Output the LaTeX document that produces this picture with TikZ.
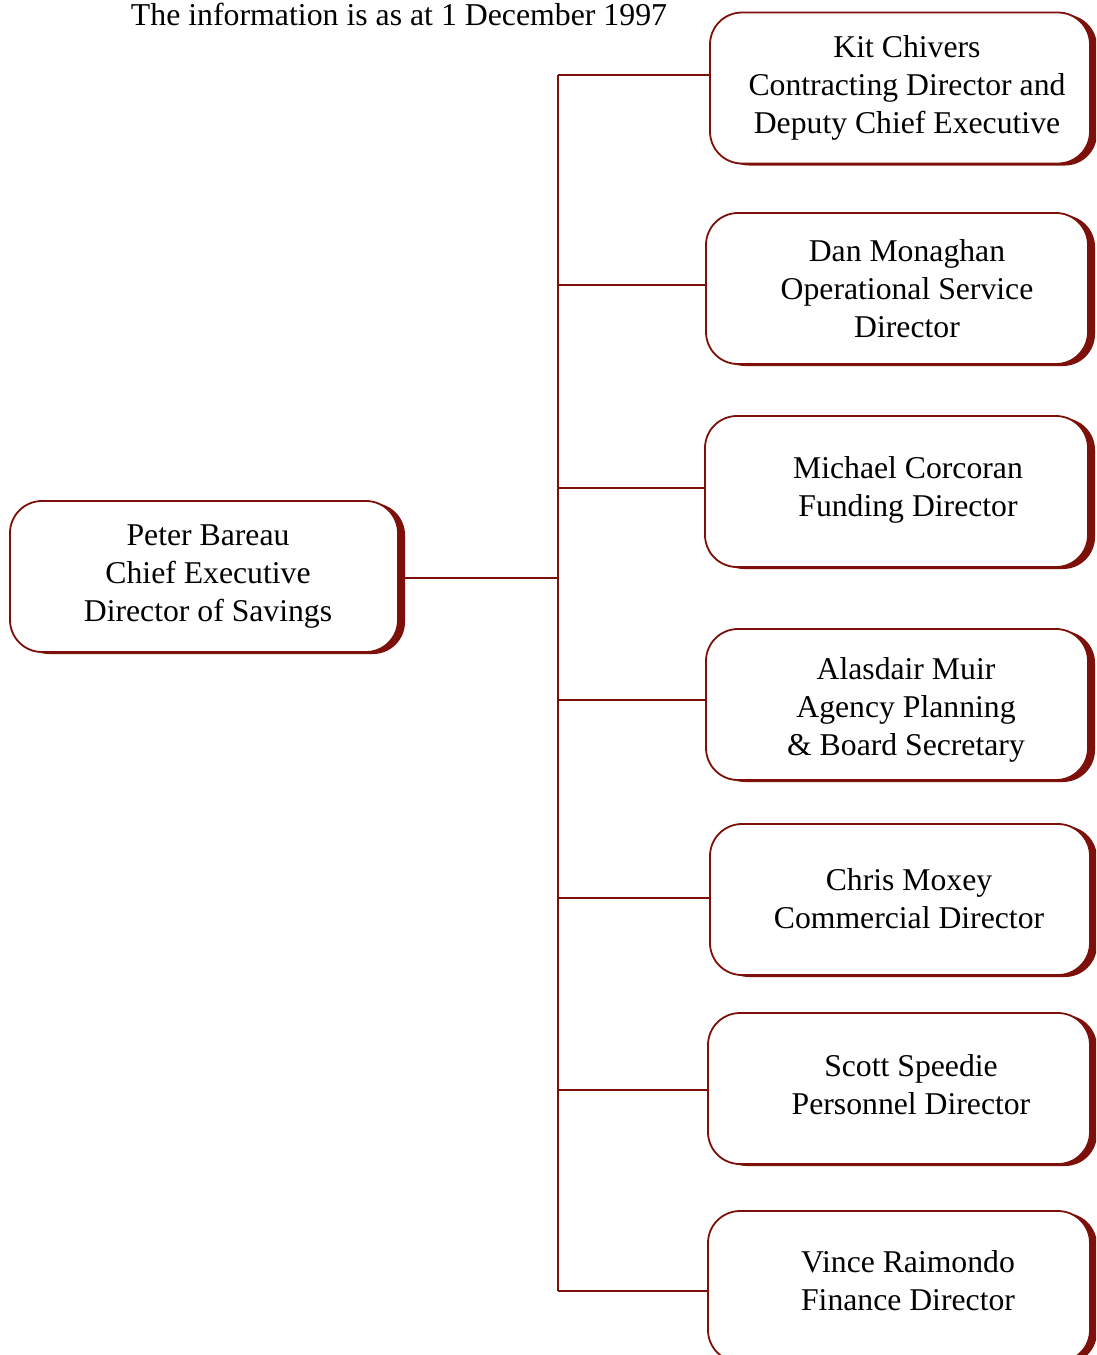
\documentclass[tikz,border=0pt]{standalone}
\usepackage{fontspec}
\setmainfont{Liberation Serif}
\usetikzlibrary{shadows}
\definecolor{dr}{RGB}{125,16,10}
\begin{document}
\begin{tikzpicture}[x=1pt,y=-1pt,
  box/.style={draw=dr, line width=1.8pt, fill=white, rounded corners=32pt,
    minimum height=151pt, inner sep=0pt,
    drop shadow={shadow xshift=7pt, shadow yshift=-2pt, fill=dr, opacity=1}},
  txt/.style={align=center, inner sep=0pt, font=\fontsize{31.7}{38}\selectfont},
  conn/.style={draw=dr, line width=1.8pt}]
\useasboundingbox (0,0) rectangle (1096,1355);
\begin{scope}
\clip (0,0) rectangle (1096,1355);
\node[anchor=base, font=\fontsize{31.8}{38}\selectfont] (title) at (399,25) {The information is as at 1 December 1997};

\node[box, minimum width=388pt] (root) at (204,576.5) {};
\node[txt] (rootT) at (208,576.5) {Peter Bareau\\Chief Executive\\Director of Savings};

\node[box, minimum width=380pt] (b1) at (900,88) {};
\node[txt] (b1T) at (907,88) {Kit Chivers\\Contracting Director and\\Deputy Chief Executive};
\node[box, minimum width=382pt] (b2) at (897,288.5) {};
\node[txt] (b2T) at (907,289) {Dan Monaghan\\Operational Service\\Director};
\node[box, minimum width=383pt] (b3) at (896.5,491.5) {};
\node[txt] (b3T) at (908,490) {Michael Corcoran\\Funding Director};
\node[box, minimum width=382pt] (b4) at (897,704.5) {};
\node[txt] (b4T) at (906,710) {Alasdair Muir\\Agency Planning\\\& Board Secretary};
\node[box, minimum width=380pt] (b5) at (900,899.5) {};
\node[txt] (b5T) at (909,899) {Chris Moxey\\Commercial Director};
\node[box, minimum width=382pt] (b6) at (899,1088.5) {};
\node[txt] (b6T) at (911,1085) {Scott Speedie\\Personnel Director};
\node[box, minimum width=382pt] (b7) at (899,1286.5) {};
\node[txt] (b7T) at (908,1281) {Vince Raimondo\\Finance Director};

\coordinate (t1) at (558,75);
\coordinate (t2) at (558,285);
\coordinate (t3) at (558,488);
\coordinate (t4) at (558,700);
\coordinate (t5) at (558,898);
\coordinate (t6) at (558,1090);
\coordinate (t7) at (558,1291);
\coordinate (troot) at (558,578);
\coordinate (rootout) at (405,578);

\draw[conn] (t1) -- (t7);
\draw[conn] (rootout) -- (troot);
\draw[conn] (t1) -- (t1 -| b1.west);
\draw[conn] (t2) -- (t2 -| b2.west);
\draw[conn] (t3) -- (t3 -| b3.west);
\draw[conn] (t4) -- (t4 -| b4.west);
\draw[conn] (t5) -- (t5 -| b5.west);
\draw[conn] (t6) -- (t6 -| b6.west);
\draw[conn] (t7) -- (t7 -| b7.west);
\end{scope}
\end{tikzpicture}
\end{document}
